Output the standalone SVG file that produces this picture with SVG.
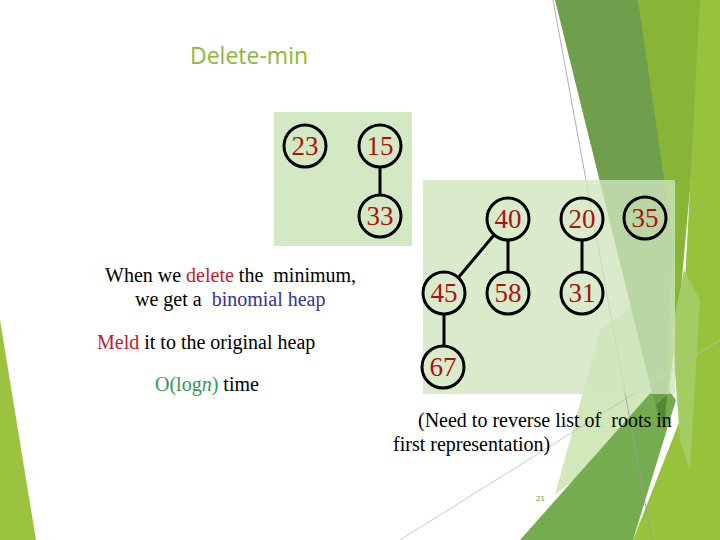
<svg xmlns="http://www.w3.org/2000/svg" width="720" height="540" viewBox="0 0 720 540">
<style>
.nd circle{fill:none;stroke:#000;stroke-width:3}
.nd text{font-family:"Liberation Serif",serif;font-size:27px;fill:#a8150f;text-anchor:middle}
.ed line{stroke:#000;stroke-width:3}
.t{font-family:"Liberation Serif",serif;font-size:20px;fill:#000;white-space:pre}
.red{fill:#c0202a}
.blue{fill:#333399}
.grn{fill:#2e9a5c}
</style>
<rect width="720" height="540" fill="#fff"/>
<g id="background">
<polygon points="0,320 36,540 0,540" fill="#9bc340"/>
<polygon points="638,0 707,0 680,300 666,415" fill="#88b536"/>
<polygon points="700,0 720,0 720,540 633,540 680,420 684,300" fill="#97c33c"/>
<polygon points="672,330 684,270 700,300 690,470 680,440" fill="#a3cc62"/>
<polygon points="555,495 600,330 640,300 665,300 662,410" fill="#d2e8bb"/>
<polygon points="520,540 662,380 676,400 633,540" fill="#74ad4f"/>
<polygon points="555,0 638,0 673,240 666,405 660,425" fill="#6f9f4d"/>
<polygon points="656,405 667,395 664,430" fill="#4e8a30"/>
<line x1="553" y1="0" x2="652" y2="540" stroke="#9a9a9a" stroke-width="0.8"/>
<line x1="400" y1="540" x2="720" y2="340" stroke="#bdbdbd" stroke-width="0.8"/>
</g>
<rect x="274" y="112" width="138" height="134" fill="#d3e9c3"/>
<rect x="423" y="180" width="252" height="214" fill="#cfe6bd" opacity="0.78"/>
<text x="190" y="64" font-family="'Open Sans',sans-serif" font-size="23" fill="#8ab83a">Delete-min</text>
<g id="connectors" class="ed">
<line x1="380" y1="168" x2="380" y2="195"/>
<line x1="494" y1="235" x2="458" y2="278"/>
<line x1="508" y1="240" x2="508" y2="272"/>
<line x1="582" y1="240" x2="582" y2="272"/>
<line x1="444" y1="314" x2="444" y2="346"/>
</g>
<g id="n23" class="nd"><circle cx="305" cy="146" r="21"/><text x="305" y="155">23</text></g>
<g id="n15" class="nd"><circle cx="380" cy="146" r="21"/><text x="380" y="155">15</text></g>
<g id="n33" class="nd"><circle cx="380" cy="216" r="21"/><text x="380" y="225">33</text></g>
<g id="n40" class="nd"><circle cx="508" cy="219" r="21"/><text x="508" y="228">40</text></g>
<g id="n20" class="nd"><circle cx="582" cy="219" r="21"/><text x="582" y="228">20</text></g>
<g id="n35" class="nd"><circle cx="645" cy="218" r="21"/><text x="645" y="227">35</text></g>
<g id="n45" class="nd"><circle cx="444" cy="293" r="21"/><text x="444" y="302">45</text></g>
<g id="n58" class="nd"><circle cx="508" cy="293" r="21"/><text x="508" y="302">58</text></g>
<g id="n31" class="nd"><circle cx="582" cy="293" r="21"/><text x="582" y="302">31</text></g>
<g id="n67" class="nd"><circle cx="443" cy="367" r="21"/><text x="443" y="376">67</text></g>
<text class="t" x="105" y="282" xml:space="preserve">When we <tspan class="red">delete</tspan> the  minimum,</text>
<text class="t" x="135" y="306" xml:space="preserve">we get a  <tspan class="blue">binomial heap</tspan></text>
<text class="t" x="97" y="349"><tspan class="red">Meld</tspan> it to the original heap</text>
<text class="t" x="155" y="391"><tspan class="grn">O(log<tspan font-style="italic">n</tspan>)</tspan> time</text>
<text class="t" x="418" y="427" xml:space="preserve">(Need to reverse list of  roots in</text>
<text class="t" x="393" y="451">first representation)</text>
<text x="536" y="501" font-family="'Liberation Sans',sans-serif" font-size="8" fill="#8c8c4c">21</text>
</svg>
